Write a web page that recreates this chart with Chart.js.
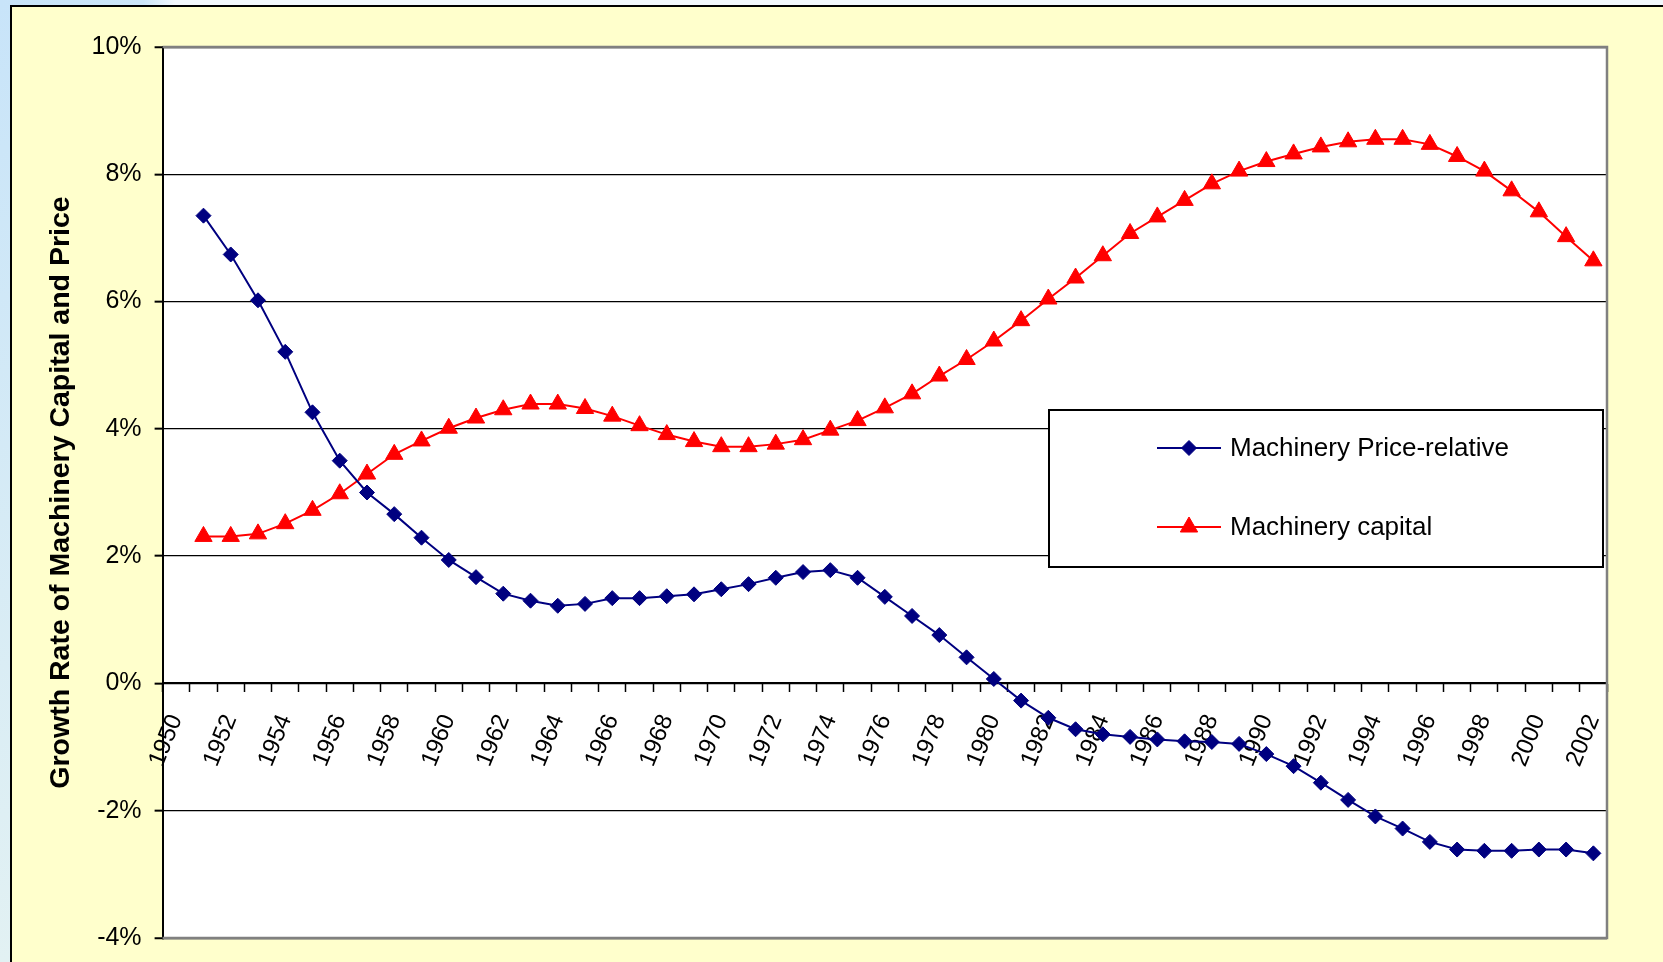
<!DOCTYPE html>
<html>
<head>
<meta charset="utf-8">
<title>Growth Rate of Machinery Capital and Price</title>
<script src="https://cdn.jsdelivr.net/npm/chart.js@4.4.1/dist/chart.umd.min.js"></script>
<style>
  html, body { margin: 0; padding: 0; background: #fff; overflow: hidden; }
  #wrap { position: relative; width: 1663px; height: 962px; }
</style>
</head>
<body>
<div id="wrap"><canvas id="growth"></canvas></div>
<script>
// categories: one per year, labels shown on every second year
const years = [
  '1950', '1951', '1952', '1953', '1954', '1955', '1956', '1957', '1958', '1959',
  '1960', '1961', '1962', '1963', '1964', '1965', '1966', '1967', '1968', '1969',
  '1970', '1971', '1972', '1973', '1974', '1975', '1976', '1977', '1978', '1979',
  '1980', '1981', '1982', '1983', '1984', '1985', '1986', '1987', '1988', '1989',
  '1990', '1991', '1992', '1993', '1994', '1995', '1996', '1997', '1998', '1999',
  '2000', '2001', '2002'
];

// growth rates in percent (no value for 1950)
const priceRelative = [
  null, 7.35, 6.74, 6.02, 5.21, 4.26, 3.50, 3.00, 2.66, 2.29,
  1.94, 1.67, 1.41, 1.30, 1.22, 1.25, 1.34, 1.34, 1.37, 1.40,
  1.48, 1.56, 1.66, 1.75, 1.78, 1.66, 1.36, 1.06, 0.76, 0.41,
  0.07, -0.27, -0.54, -0.72, -0.80, -0.84, -0.88, -0.91, -0.92, -0.95,
  -1.11, -1.30, -1.56, -1.83, -2.09, -2.28, -2.49, -2.61, -2.63, -2.63,
  -2.61, -2.61, -2.67
];

const machineryCapital = [
  null, 2.31, 2.31, 2.35, 2.51, 2.72, 2.98, 3.29, 3.60, 3.81,
  4.01, 4.17, 4.30, 4.39, 4.39, 4.32, 4.20, 4.05, 3.91, 3.80,
  3.72, 3.72, 3.76, 3.83, 3.98, 4.13, 4.33, 4.55, 4.83, 5.09,
  5.38, 5.70, 6.04, 6.37, 6.72, 7.07, 7.33, 7.59, 7.85, 8.05,
  8.20, 8.32, 8.43, 8.51, 8.55, 8.55, 8.47, 8.28, 8.05, 7.74,
  7.41, 7.02, 6.64
];

const yMin = -4;
const yMax = 10;
const yStep = 2;

Chart.defaults.font.family = "'Liberation Sans', Arial, sans-serif";
Chart.defaults.color = '#000';

// backdrop: slide edge, yellow chart frame, white plot area, grey plot border
const framePlugin = {
  id: 'frame',
  beforeDraw(chart) {
    const { ctx, width, height, chartArea: a } = chart;
    ctx.save();
    ctx.fillStyle = '#f2f8fc';
    ctx.fillRect(0, 0, width, height);
    let g = ctx.createLinearGradient(0, 0, 0, height);
    g.addColorStop(0, '#c8e4f9');
    g.addColorStop(1, '#e2f1f3');
    ctx.fillStyle = g;
    ctx.fillRect(0, 0, 12, height);
    g = ctx.createLinearGradient(0, 0, 175, 0);
    g.addColorStop(0, '#c8e4f9');
    g.addColorStop(0.82, '#cce6f9');
    g.addColorStop(1, '#f2f8fc');
    ctx.fillStyle = g;
    ctx.fillRect(0, 0, 175, 7);

    ctx.fillStyle = '#ffffcc';
    ctx.fillRect(11, 6, width, height);
    ctx.strokeStyle = '#000';
    ctx.lineWidth = 2;
    ctx.beginPath();
    ctx.moveTo(11, height);
    ctx.lineTo(11, 6);
    ctx.lineTo(width, 6);
    ctx.stroke();

    ctx.fillStyle = '#fff';
    ctx.fillRect(a.left, a.top, a.right - a.left, a.bottom - a.top);
    ctx.restore();
  },
  beforeDatasetsDraw(chart) {
    const { ctx, chartArea: a } = chart;
    ctx.save();
    ctx.strokeStyle = '#808080';
    ctx.lineWidth = 2.5;
    ctx.beginPath();
    ctx.moveTo(a.left, a.top);
    ctx.lineTo(a.right, a.top);
    ctx.lineTo(a.right, a.bottom);
    ctx.lineTo(a.left, a.bottom);
    ctx.stroke();
    ctx.restore();
  }
};

// boxed legend sitting inside the plot, right of centre
const legendPlugin = {
  id: 'boxLegend',
  afterDraw(chart) {
    const { ctx } = chart;
    const box = { left: 1049, top: 410, right: 1603, bottom: 567 };
    const rows = [448, 527];
    ctx.save();
    ctx.fillStyle = '#fff';
    ctx.fillRect(box.left, box.top, box.right - box.left, box.bottom - box.top);
    ctx.strokeStyle = '#000';
    ctx.lineWidth = 2;
    ctx.strokeRect(box.left, box.top, box.right - box.left, box.bottom - box.top);

    ctx.font = "26px 'Liberation Sans', Arial, sans-serif";
    ctx.textBaseline = 'middle';
    ctx.textAlign = 'left';
    chart.data.datasets.forEach((ds, i) => {
      const y = rows[i];
      ctx.strokeStyle = ds.borderColor;
      ctx.lineWidth = ds.borderWidth;
      ctx.beginPath();
      ctx.moveTo(1157, y);
      ctx.lineTo(1221, y);
      ctx.stroke();
      ctx.fillStyle = ds.pointBackgroundColor;
      ctx.strokeStyle = ds.pointBorderColor;
      ctx.lineWidth = ds.pointBorderWidth;
      Chart.helpers.drawPoint(ctx, {
        pointStyle: ds.pointStyle,
        radius: ds.pointRadius,
        borderWidth: ds.pointBorderWidth,
        rotation: 0
      }, 1189, y);
      ctx.fillStyle = '#000';
      ctx.fillText(ds.label, 1230, y + 1);
    });
    ctx.restore();
  }
};

const ctx = document.getElementById('growth');

new Chart(ctx, {
  type: 'line',
  data: {
    labels: years,
    datasets: [
      {
        label: 'Machinery Price-relative',
        data: priceRelative,
        borderColor: '#000080',
        borderWidth: 2,
        pointStyle: 'rectRot',
        pointRadius: 7.5,
        pointBackgroundColor: '#000080',
        pointBorderColor: '#000080',
        pointBorderWidth: 1,
        tension: 0
      },
      {
        label: 'Machinery capital',
        data: machineryCapital,
        borderColor: '#ff0000',
        borderWidth: 2,
        pointStyle: 'triangle',
        pointRadius: 10,
        pointBackgroundColor: '#ff0000',
        pointBorderColor: '#ff0000',
        pointBorderWidth: 1,
        tension: 0
      }
    ]
  },
  options: {
    responsive: true,
    maintainAspectRatio: false,
    animation: false,
    layout: {
      padding: { left: 12, top: 47, right: 56, bottom: 24 }
    },
    plugins: {
      legend: { display: false },
      tooltip: { enabled: false }
    },
    scales: {
      x: {
        type: 'category',
        position: { y: 0 },
        offset: true,
        grid: {
          offset: true,
          drawOnChartArea: false,
          drawTicks: true,
          tickLength: 8,
          tickColor: '#000',
          tickWidth: 1.5
        },
        border: { display: true, color: '#000', width: 2 },
        ticks: {
          autoSkip: false,
          minRotation: 68,
          maxRotation: 68,
          padding: 19,
          font: { size: 24 },
          color: '#000',
          callback: function (val, idx) {
            return idx % 2 === 0 ? this.getLabelForValue(val) : '';
          }
        }
      },
      y: {
        min: yMin,
        max: yMax,
        afterFit(scale) {
          // fixed axis width; the outer padding alone sets the plot's top and bottom
          scale.width = 150.6;
          scale.paddingTop = 0;
          scale.paddingBottom = 0;
        },
        ticks: {
          stepSize: yStep,
          padding: 13,
          font: { size: 25 },
          color: '#000',
          callback: v => v + '%'
        },
        grid: {
          color: c => (c.tick && (c.tick.value === yMax || c.tick.value === yMin)) ? '#808080' : '#000',
          lineWidth: c => (c.tick && (c.tick.value === yMax || c.tick.value === yMin)) ? 2.5 : 1.3,
          tickColor: '#000',
          tickLength: 8,
          tickWidth: 2
        },
        border: { display: true, color: '#000', width: 2 },
        title: {
          display: true,
          text: 'Growth Rate of Machinery Capital and Price',
          color: '#000',
          font: { size: 28.5, weight: 'bold', lineHeight: 1.2 },
          padding: { top: 32, bottom: 0 }
        }
      }
    }
  },
  plugins: [framePlugin, legendPlugin]
});
</script>
</body>
</html>
